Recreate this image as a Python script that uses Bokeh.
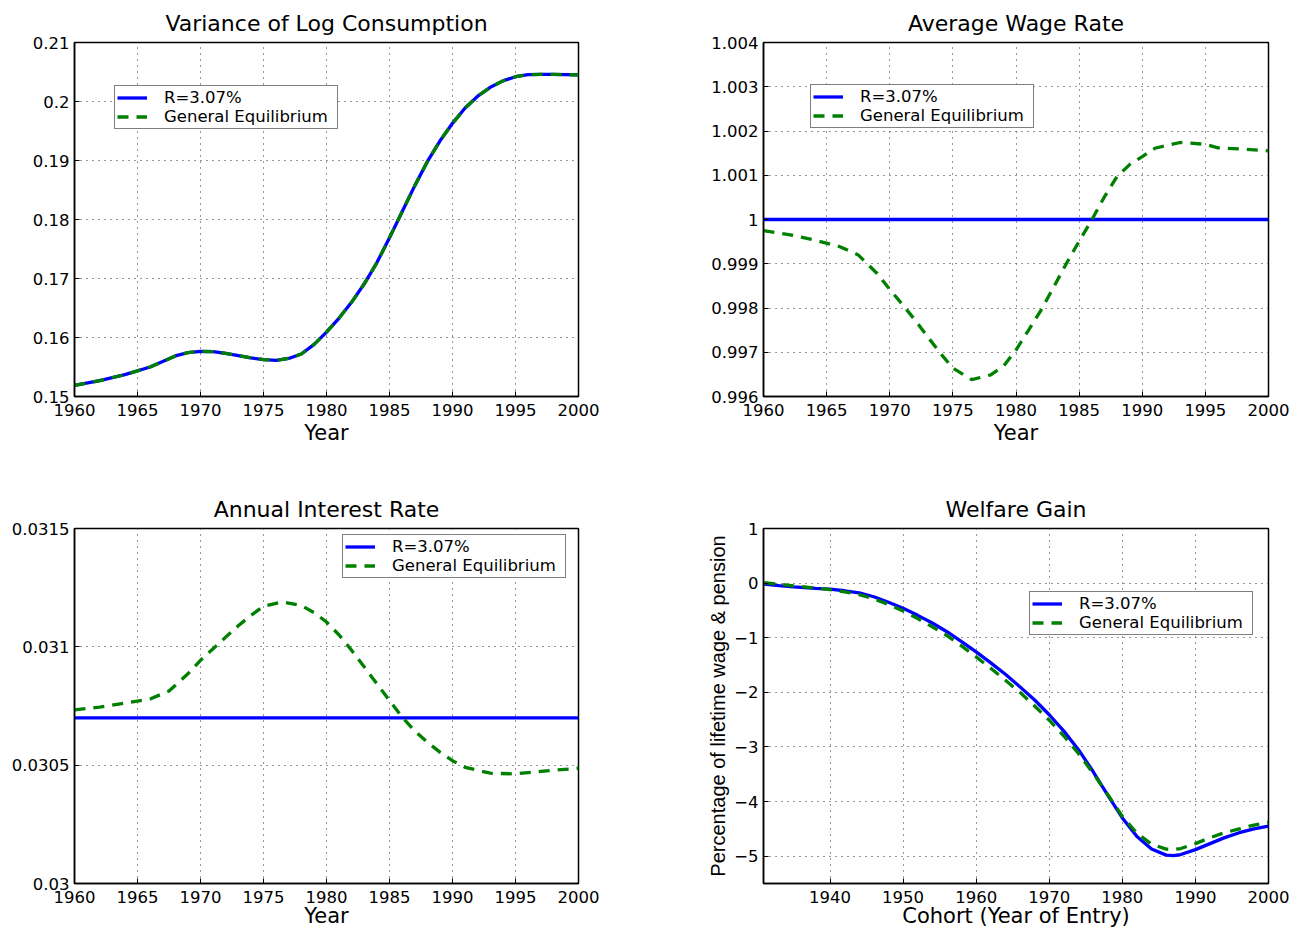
from bokeh.plotting import figure
from bokeh.layouts import column, row
from bokeh.models import FixedTicker, Legend, LegendItem, Range1d
from bokeh.embed import file_html
from bokeh.resources import INLINE

FONT = "DejaVu Sans"
BLUE = "#0000ff"
GREEN = "#008000"

# ---- Variance of log consumption ----
var_years = [1960, 1962, 1964, 1966, 1967, 1968, 1969, 1970, 1971, 1972, 1973, 1974, 1975,
             1976, 1977, 1978, 1979, 1980, 1981, 1982, 1983, 1984, 1985, 1986, 1987, 1988,
             1989, 1990, 1991, 1992, 1993, 1994, 1995, 1996, 1997, 1998, 1999, 2000]
var_pe = [0.1519, 0.1527, 0.1537, 0.1550, 0.15592, 0.15687, 0.15744, 0.15766, 0.1576, 0.15732,
          0.15693, 0.15654, 0.15625, 0.15614, 0.15645, 0.1572, 0.1588, 0.1609, 0.1633, 0.1660,
          0.1691, 0.1727, 0.1769, 0.1813, 0.1857, 0.1898, 0.1933, 0.1963, 0.1989, 0.2009,
          0.2024, 0.2035, 0.2042, 0.20455, 0.2046, 0.2046, 0.20455, 0.2045]
var_ge = [0.1519, 0.1527, 0.1537, 0.1550, 0.15592, 0.15687, 0.15744, 0.15766, 0.1576, 0.15732,
          0.15693, 0.15654, 0.15625, 0.15614, 0.15645, 0.1572, 0.1588, 0.1609, 0.1633, 0.1660,
          0.1691, 0.1727, 0.1769, 0.1813, 0.1857, 0.1898, 0.1933, 0.1963, 0.1989, 0.2009,
          0.2024, 0.2035, 0.2042, 0.20455, 0.2046, 0.2046, 0.20455, 0.2045]

# ---- Average wage rate ----
wage_pe_years = [1960, 2000]
wage_pe = [1.0, 1.0]
wage_ge_years = [1960, 1962, 1964, 1966, 1967.5, 1969, 1970, 1971, 1972, 1973, 1974, 1975, 1976.5,
                 1978, 1979, 1980, 1981, 1982, 1983, 1984, 1985, 1986, 1987, 1988, 1989, 1990,
                 1991, 1993, 1995, 1996, 1998, 2000]
wage_ge = [0.99975, 0.99966, 0.99954, 0.99939, 0.99920, 0.99878, 0.99842, 0.99808, 0.99773,
           0.99735, 0.99698, 0.99664, 0.99638, 0.99649, 0.99668, 0.99705, 0.99750, 0.99796,
           0.99848, 0.99901, 0.99951, 0.99999, 1.00051, 1.00097, 1.00124, 1.00142, 1.00161,
           1.00174, 1.00170, 1.00162, 1.00159, 1.00155]

# ---- Annual interest rate ----
rate_pe_years = [1960, 2000]
rate_pe = [0.0307, 0.0307]
rate_ge_years = [1960, 1962, 1964, 1966, 1967.5, 1969, 1970, 1971, 1972, 1973, 1974, 1975, 1976.5,
                 1978, 1979, 1980, 1981, 1982, 1983, 1984, 1985, 1986, 1987, 1988, 1989, 1990,
                 1991, 1993, 1995, 1997, 2000]
rate_ge = [0.030734, 0.030745, 0.030762, 0.030780, 0.030813, 0.030886, 0.030943, 0.030992,
           0.031041, 0.031089, 0.031133, 0.031171, 0.031190, 0.031175, 0.031145, 0.031105,
           0.031050, 0.030985, 0.030915, 0.030844, 0.030773, 0.030703, 0.030645, 0.030597,
           0.030555, 0.030519, 0.030491, 0.030466, 0.030463, 0.030474, 0.030487]

# ---- Welfare gain by cohort ----
cohorts = [1931, 1933, 1935, 1938, 1940, 1942, 1944, 1946, 1948, 1950, 1952, 1954, 1956, 1958,
           1960, 1962, 1964, 1966, 1968, 1970, 1972, 1974, 1976, 1978, 1980, 1982, 1984, 1986,
           1987, 1988, 1990, 1992, 1994, 1996, 1998, 2000]
welfare_pe = [-0.02, -0.045, -0.067, -0.095, -0.11, -0.14, -0.18, -0.25, -0.35, -0.46, -0.59,
              -0.73, -0.89, -1.07, -1.26, -1.46, -1.67, -1.90, -2.14, -2.41, -2.71, -3.05,
              -3.45, -3.88, -4.30, -4.64, -4.87, -4.98, -4.99, -4.97, -4.88, -4.77, -4.66,
              -4.57, -4.50, -4.45]
welfare_ge = [0.01, -0.02, -0.05, -0.09, -0.12, -0.16, -0.21, -0.29, -0.39, -0.51, -0.65,
              -0.80, -0.96, -1.15, -1.35, -1.56, -1.78, -2.00, -2.25, -2.51, -2.80, -3.12,
              -3.48, -3.87, -4.27, -4.58, -4.78, -4.87, -4.88, -4.86, -4.77, -4.66, -4.57,
              -4.50, -4.43, -4.38]

# ---- Tick positions and labels ----
year_ticks = [1960, 1965, 1970, 1975, 1980, 1985, 1990, 1995, 2000]
cohort_ticks = [1940, 1950, 1960, 1970, 1980, 1990, 2000]
var_ticks = [0.15, 0.16, 0.17, 0.18, 0.19, 0.2, 0.21]
var_tick_labels = ["0.15", "0.16", "0.17", "0.18", "0.19", "0.2", "0.21"]
wage_ticks = [0.996, 0.997, 0.998, 0.999, 1.0, 1.001, 1.002, 1.003, 1.004]
wage_tick_labels = ["0.996", "0.997", "0.998", "0.999", "1", "1.001", "1.002", "1.003", "1.004"]
rate_ticks = [0.03, 0.0305, 0.031, 0.0315]
rate_tick_labels = ["0.03", "0.0305", "0.031", "0.0315"]
welfare_ticks = [-5, -4, -3, -2, -1, 0, 1]
welfare_tick_labels = ["\u22125", "\u22124", "\u22123", "\u22122", "\u22121", "0", "1"]

LABEL_PE = "R=3.07%"
LABEL_GE = "General Equilibrium"


def make_panel(title, width, height, borders, xr, yr, xticks, yticks, ylabels, xlabel,
               xlabel_standoff):
    left, right, top, bottom = borders
    p = figure(width=width, height=height, output_backend="svg", toolbar_location=None,
               x_range=Range1d(*xr), y_range=Range1d(*yr),
               min_border_left=left, min_border_right=right,
               min_border_top=top, min_border_bottom=bottom)
    p.title.text = title
    p.title.align = "center"
    p.title.text_font = FONT
    p.title.text_font_size = "22px"
    p.title.text_font_style = "normal"
    p.title.text_color = "black"
    p.title.standoff = 14
    p.outline_line_color = "black"
    p.outline_line_width = 1.5
    p.background_fill_color = "white"
    p.border_fill_color = "white"

    p.xaxis.ticker = FixedTicker(ticks=xticks)
    p.yaxis.ticker = FixedTicker(ticks=yticks)
    p.yaxis.major_label_overrides = {t: s for t, s in zip(yticks, ylabels)}
    p.xaxis.major_label_overrides = {t: str(t) for t in xticks}
    for ax in (p.xaxis, p.yaxis):
        ax.axis_line_color = "black"
        ax.axis_line_width = 1.5
        ax.major_tick_in = 5
        ax.major_tick_out = 0
        ax.minor_tick_in = 0
        ax.minor_tick_out = 0
        ax.major_tick_line_color = "black"
        ax.major_label_text_font = FONT
        ax.major_label_text_font_size = "16.5px"
        ax.major_label_text_color = "black"
    p.xaxis.major_label_standoff = 7
    p.yaxis.major_label_standoff = 5
    p.xaxis.axis_label = xlabel
    p.xaxis.axis_label_text_font = FONT
    p.xaxis.axis_label_text_font_size = "21px"
    p.xaxis.axis_label_text_font_style = "normal"
    p.xaxis.axis_label_text_color = "black"
    p.xaxis.axis_label_standoff = xlabel_standoff

    for g in (p.xgrid, p.ygrid):
        g.grid_line_color = "#333333"
        g.grid_line_width = 1
        g.grid_line_dash = "1 5"
    p.xgrid.ticker = FixedTicker(ticks=xticks)
    p.ygrid.ticker = FixedTicker(ticks=yticks)
    return p


def add_series(p, xs_pe, ys_pe, xs_ge, ys_ge, loc):
    r_pe = p.line(xs_pe, ys_pe, line_color=BLUE, line_width=3.3)
    r_ge = p.line(xs_ge, ys_ge, line_color=GREEN, line_width=3.3, line_dash="11 8")
    leg = Legend(items=[LegendItem(label=LABEL_PE, renderers=[r_pe]),
                        LegendItem(label=LABEL_GE, renderers=[r_ge])],
                 location=loc)
    leg.label_text_font = FONT
    leg.label_text_font_size = "16.5px"
    leg.label_text_color = "black"
    leg.border_line_color = "black"
    leg.border_line_width = 1.5
    leg.background_fill_color = "white"
    leg.background_fill_alpha = 1.0
    leg.padding = 2
    leg.spacing = 0
    leg.margin = 0
    leg.glyph_width = 30
    leg.glyph_height = 17
    leg.label_height = 17
    leg.label_standoff = 17
    leg.label_width = 171
    p.add_layout(leg, "center")
    return p


p1 = make_panel("Variance of Log Consumption", 650, 466, (74, 72, 42, 70),
                (1960, 2000), (0.15, 0.21), year_ticks, var_ticks, var_tick_labels, "Year", 2)
add_series(p1, var_years, var_pe, var_years, var_ge, (40, 267))

p2 = make_panel("Average Wage Rate", 653, 466, (113, 35, 42, 70),
                (1960, 2000), (0.996, 1.004), year_ticks, wage_ticks, wage_tick_labels, "Year", 2)
add_series(p2, wage_pe_years, wage_pe, wage_ge_years, wage_ge, (47, 268))

p3 = make_panel("Annual Interest Rate", 650, 464, (74, 72, 62, 47),
                (1960, 2000), (0.03, 0.0315), year_ticks, rate_ticks, rate_tick_labels, "Year", -2)
add_series(p3, rate_pe_years, rate_pe, rate_ge_years, rate_ge, (268, 305))

p4 = make_panel("Welfare Gain", 653, 464, (113, 35, 62, 47),
                (1930.9, 2000), (-5.5, 1), cohort_ticks, welfare_ticks, welfare_tick_labels,
                "Cohort (Year of Entry)", -2)
p4.yaxis.axis_label = "Percentage of lifetime wage & pension"
p4.yaxis.axis_label_text_font = "Liberation Sans"
p4.yaxis.axis_label_text_font_size = "20px"
p4.yaxis.axis_label_text_font_style = "normal"
p4.yaxis.axis_label_text_color = "black"
p4.yaxis.axis_label_standoff = 2
add_series(p4, cohorts, welfare_pe, cohorts, welfare_ge, (266, 248))

layout = column(row(p1, p2), row(p3, p4))
open("out.html", "w").write(file_html(layout, INLINE))
